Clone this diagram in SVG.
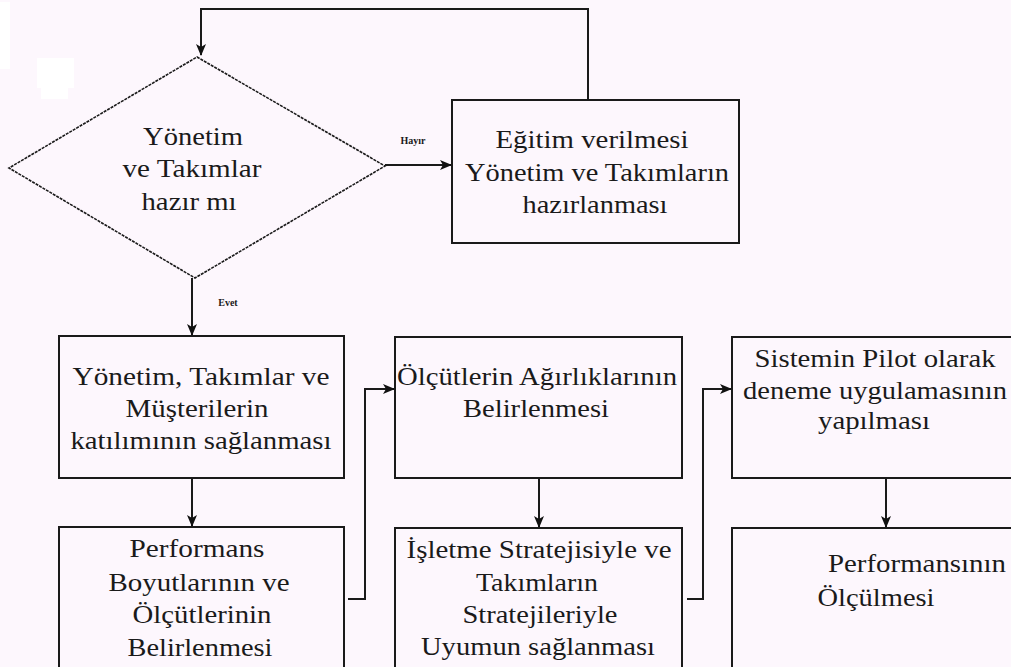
<svg xmlns="http://www.w3.org/2000/svg" width="1011" height="667" viewBox="0 0 1011 667">
<defs>
<style>
.bg{fill:#fdf7fd}
.wp{fill:#ffffff}
.box{fill:none;stroke:#1a1a1a;stroke-width:2}
.ln{fill:none;stroke:#1a1a1a;stroke-width:2}
.dm{fill:none;stroke:#1a1a1a;stroke-width:1.6;stroke-dasharray:3 1}
text{font-family:'Liberation Serif','Times New Roman',serif;font-size:26px;fill:#1a1a1a;text-anchor:middle}
.lb{font-size:10px;font-weight:bold}
</style>
<marker id="ah" viewBox="0 0 12 10" refX="11" refY="5" markerWidth="12" markerHeight="10" markerUnits="userSpaceOnUse" orient="auto">
<path d="M0,0 L12,5 L0,10 L3,5 Z" fill="#111"/>
</marker>
</defs>
<rect class="bg" x="0" y="0" width="1011" height="667"/>
<rect class="wp" x="0" y="2" width="10" height="67"/>
<rect class="wp" x="37" y="58" width="37" height="30"/>
<rect class="wp" x="41" y="87" width="27" height="12"/>

<g id="connectors">
<polyline class="ln" points="588,100 588,9 201,9 201,55" marker-end="url(#ah)"/>
<line class="ln" x1="385" y1="165" x2="451" y2="165" marker-end="url(#ah)"/>
<line class="ln" x1="192" y1="278" x2="192" y2="335" marker-end="url(#ah)"/>
<line class="ln" x1="192" y1="478" x2="192" y2="526" marker-end="url(#ah)"/>
<polyline class="ln" points="348,599 365,599 365,389 394,389" marker-end="url(#ah)"/>
<line class="ln" x1="539" y1="478" x2="539" y2="527" marker-end="url(#ah)"/>
<polyline class="ln" points="687,599 703,599 703,389 731,389" marker-end="url(#ah)"/>
<line class="ln" x1="886" y1="478" x2="886" y2="527" marker-end="url(#ah)"/>
<text class="lb" x="413" y="144">Hayır</text>
<text class="lb" x="228" y="306">Evet</text>
</g>

<g id="decision">
<polygon class="dm" points="197,57 385,166 195,278 9,168"/>
<text x="193" y="145" textLength="100" lengthAdjust="spacingAndGlyphs">Yönetim</text>
<text x="192" y="177" textLength="139" lengthAdjust="spacingAndGlyphs">ve Takımlar</text>
<text x="189" y="210" textLength="95" lengthAdjust="spacingAndGlyphs">hazır mı</text>
</g>

<g id="egitim">
<rect class="box" x="452" y="100" width="287" height="143"/>
<text x="592" y="148" textLength="193" lengthAdjust="spacingAndGlyphs">Eğitim verilmesi</text>
<text x="597" y="181" textLength="264" lengthAdjust="spacingAndGlyphs">Yönetim ve Takımların</text>
<text x="595" y="213" textLength="145" lengthAdjust="spacingAndGlyphs">hazırlanması</text>
</g>

<g id="katilim">
<rect class="box" x="59" y="336" width="285" height="142"/>
<text x="201" y="385" textLength="257" lengthAdjust="spacingAndGlyphs">Yönetim, Takımlar ve</text>
<text x="197" y="417" textLength="143" lengthAdjust="spacingAndGlyphs">Müşterilerin</text>
<text x="201" y="449" textLength="261" lengthAdjust="spacingAndGlyphs">katılımının sağlanması</text>
</g>

<g id="performans">
<rect class="box" x="59" y="527" width="285" height="150"/>
<text x="197" y="557" textLength="135" lengthAdjust="spacingAndGlyphs">Performans</text>
<text x="199" y="591" textLength="181" lengthAdjust="spacingAndGlyphs">Boyutlarının ve</text>
<text x="202" y="623" textLength="139" lengthAdjust="spacingAndGlyphs">Ölçütlerinin</text>
<text x="200" y="656" textLength="145" lengthAdjust="spacingAndGlyphs">Belirlenmesi</text>
</g>

<g id="agirlik">
<rect class="box" x="395" y="337" width="287" height="141"/>
<text x="537" y="385" textLength="280" lengthAdjust="spacingAndGlyphs">Ölçütlerin Ağırlıklarının</text>
<text x="536" y="417" textLength="146" lengthAdjust="spacingAndGlyphs">Belirlenmesi</text>
</g>

<g id="uyum">
<rect class="box" x="395" y="528" width="287" height="150"/>
<text x="539" y="558" textLength="265" lengthAdjust="spacingAndGlyphs">İşletme Stratejisiyle ve</text>
<text x="537" y="591" textLength="122" lengthAdjust="spacingAndGlyphs">Takımların</text>
<text x="540" y="623" textLength="155" lengthAdjust="spacingAndGlyphs">Stratejileriyle</text>
<text x="538" y="655" textLength="234" lengthAdjust="spacingAndGlyphs">Uyumun sağlanması</text>
</g>

<g id="pilot">
<rect class="box" x="732" y="337" width="290" height="141"/>
<text x="875" y="367" textLength="241" lengthAdjust="spacingAndGlyphs">Sistemin Pilot olarak</text>
<text x="875" y="399" textLength="264" lengthAdjust="spacingAndGlyphs">deneme uygulamasının</text>
<text x="874" y="429" textLength="112" lengthAdjust="spacingAndGlyphs">yapılması</text>
</g>

<g id="olcum">
<rect class="box" x="732" y="528" width="290" height="150"/>
<text x="917" y="572" textLength="178" lengthAdjust="spacingAndGlyphs">Performansının</text>
<text x="876" y="606" textLength="117" lengthAdjust="spacingAndGlyphs">Ölçülmesi</text>
</g>
</svg>
